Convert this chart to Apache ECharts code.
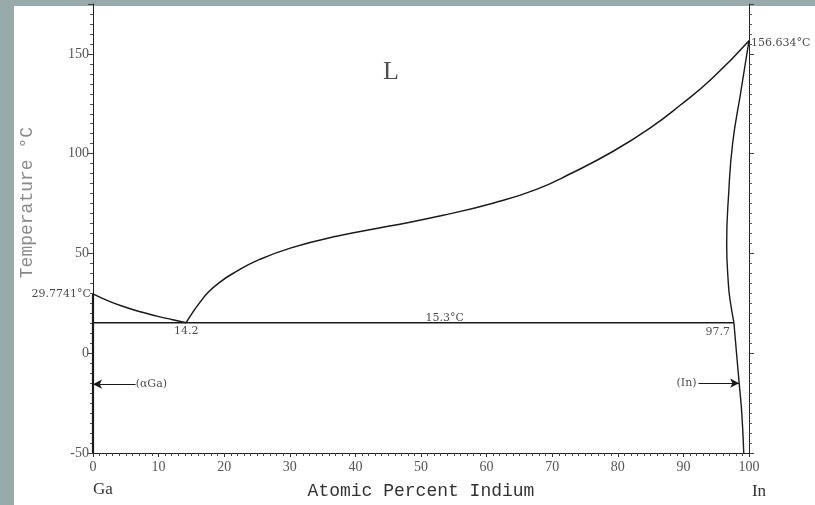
<!DOCTYPE html>
<html><head><meta charset="utf-8">
<script src="https://cdn.jsdelivr.net/npm/echarts@6/dist/echarts.min.js"></script>
<style>html,body{margin:0;padding:0;background:#98aaa9;}#c{width:815px;height:505px;}</style>
</head><body><div id="c"></div>
<script>
// Data (Atomic % In, Temperature °C)
const liquidusGa = [[0,29.7741],[2.5,26.0],[5.2,22.8],[7.5,20.5],[9.75,18.6],[12,16.9],[14.2,15.3]];
const liquidusIn = [[14.2,15.3],[15.2,20.5],[16.3,25.5],[17.5,30.3],[19.2,35.3],[21.5,40.3],[25.4,47],[30.2,52.8],[37.3,58.7],[45.2,63.7],[53.2,69],[61.1,75.3],[67.5,82],[73,90.3],[79.3,101.2],[84.9,112.8],[89.6,124.5],[94.4,137.8],[100,156.634]];
const solidusIn = [[100,156.634],[98.7,130],[97.5,105],[96.9,80],[96.6,55],[96.85,35],[97.1,27],[97.7,15.3]];
const solvusIn = [[97.7,15.3],[98.1,0],[98.5,-15],[98.9,-30],[99.2,-50]];
const eutecticLine = [[0,15.3],[97.7,15.3]];
const gaSolid = [[0,-50],[0,29.7741]];
const annotations = [
  {pos:[0,29.7741], text:'29.7741°C', align:'right', dx:-2, dy:0},
  {pos:[100,156.634], text:'156.634°C', align:'left', dx:2, dy:2},
  {pos:[14.2,11.3], text:'14.2', align:'center', dx:0, dy:0},
  {pos:[53.6,17.8], text:'15.3°C', align:'center', dx:0, dy:0},
  {pos:[97.1,10.6], text:'97.7', align:'right', dx:0, dy:0},
  {pos:[6.5,-15.5], text:'(αGa)', align:'left', dx:0, dy:0},
  {pos:[92.0,-15], text:'(In)', align:'right', dx:0, dy:0}
];
const phaseLabel = {pos:[45.4,141], text:'L'};
const arrowGa = [[6.5,-15.5],[0,-15.5]];
const arrowIn = [[92.3,-15],[98.5,-15]];
const xTicks = {min:0, max:100, interval:10};
const yTicks = {min:-50, max:175, interval:50};

const chart = echarts.init(document.getElementById('c'), null, {renderer:'canvas'});
const lineSeries = (data, w, smooth) => ({type:'line', data, showSymbol:false, symbol:'none', smooth: smooth,
  lineStyle:{color:'#1a1a1a', width:w}, silent:true, animation:false, xAxisIndex:0, yAxisIndex:0});
const serif = 'Liberation Serif';
const annSerif = 'DejaVu Serif';
chart.setOption({
  backgroundColor:'#98aaa9',
  animation:false,
  graphic:[
    {type:'rect', z:-10, shape:{x:14,y:6,width:801,height:499}, style:{fill:'#ffffff'}},
    {type:'text', x:18, y:127, rotation:Math.PI/2, z:5,
     style:{text:'Temperature °C', font:'18px "Liberation Mono"', fill:'#8a8a8a', textAlign:'right', textVerticalAlign:'top'}},
    {type:'text', x:103, y:490, z:5, style:{text:'Ga', font:'17px "Liberation Serif"', fill:'#333', textAlign:'center', textVerticalAlign:'middle'}},
    {type:'text', x:759, y:492, z:5, style:{text:'In', font:'17px "Liberation Serif"', fill:'#333', textAlign:'center', textVerticalAlign:'middle'}}
  ],
  grid:{left:93, right:66, top:4, bottom:51, containLabel:false},
  xAxis:{type:'value', min:xTicks.min, max:xTicks.max, interval:xTicks.interval,
    name:'Atomic Percent Indium', nameLocation:'middle', nameGap:29,
    nameTextStyle:{fontFamily:'Liberation Mono', fontSize:18, color:'#333'},
    axisLine:{show:true, onZero:false, lineStyle:{color:'#222', width:1}},
    axisTick:{show:true, length:4, lineStyle:{color:'#333'}},
    minorTick:{show:true, splitNumber:10, length:3, lineStyle:{color:'#444'}},
    splitLine:{show:false},
    axisLabel:{fontFamily:serif, fontSize:14, color:'#555', margin:7}},
  yAxis:[
    {type:'value', min:yTicks.min, max:yTicks.max, interval:yTicks.interval, position:'left',
     axisLine:{show:true, onZero:false, lineStyle:{color:'#222', width:1}},
     axisTick:{show:true, length:5, lineStyle:{color:'#444'}},
     minorTick:{show:true, splitNumber:10, length:3, lineStyle:{color:'#555'}},
     splitLine:{show:false},
     axisLabel:{fontFamily:serif, fontSize:14, color:'#555', margin:4, showMaxLabel:false}},
    {type:'value', min:yTicks.min, max:yTicks.max, interval:yTicks.interval, position:'right',
     axisLine:{show:true, onZero:false, lineStyle:{color:'#222', width:1}},
     axisTick:{show:true, length:5, lineStyle:{color:'#444'}},
     minorTick:{show:true, splitNumber:10, length:3, lineStyle:{color:'#555'}},
     splitLine:{show:false}, axisLabel:{show:false}}
  ],
  series:[
    lineSeries(liquidusGa, 1.5, true),
    lineSeries(liquidusIn, 1.5, true),
    lineSeries(solidusIn, 1.4, true),
    lineSeries(solvusIn, 1.4, true),
    lineSeries(eutecticLine, 1.6, false),
    lineSeries(gaSolid, 2.2, false),
    {type:'line', data:[], silent:true,
     markLine:{silent:true, animation:false, symbol:['none','arrow'], symbolSize:[7,9], label:{show:false},
       lineStyle:{color:'#1a1a1a', width:1.2, type:'solid'},
       data:[
         [{coord:arrowGa[0]},{coord:arrowGa[1]}],
         [{coord:arrowIn[0]},{coord:arrowIn[1]}]
       ]}},
    {type:'scatter', symbolSize:0, silent:true, clip:false,
     data: annotations.map(a => ({value:a.pos, label:{show:true, position:'inside', formatter:a.text, align:a.align,
        offset:[a.dx,a.dy], fontFamily:annSerif, fontSize:11, color:'#1a1a1a', verticalAlign:'middle'}}))},
    {type:'scatter', symbolSize:0, silent:true,
     data:[{value:phaseLabel.pos, label:{show:true, position:'inside', formatter:phaseLabel.text,
        fontFamily:serif, fontSize:26, color:'#222'}}]}
  ]
});
</script></body></html>
